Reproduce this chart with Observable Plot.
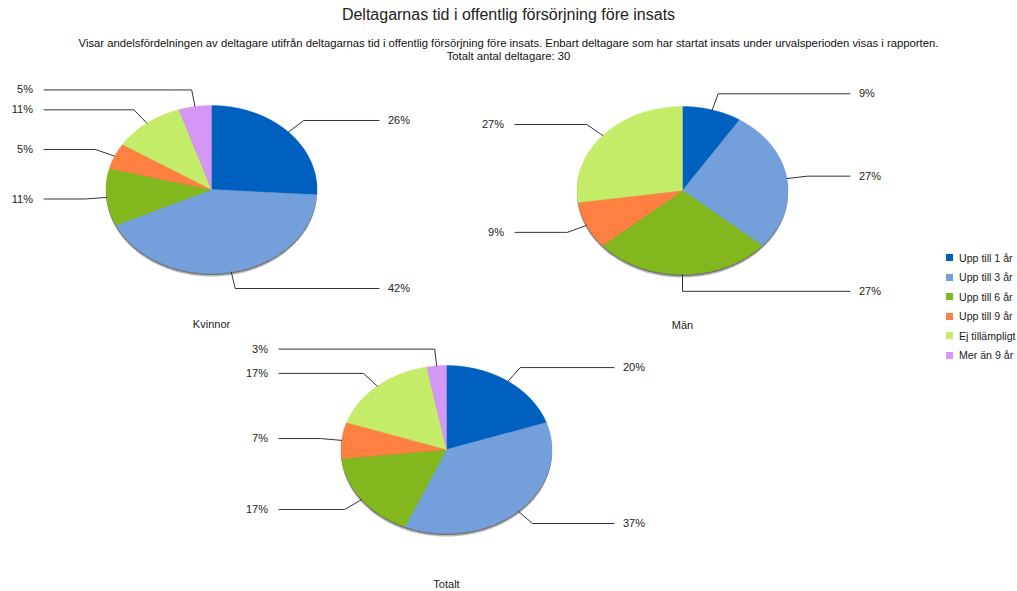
<!DOCTYPE html>
<html><head><meta charset="utf-8">
<script src="https://cdn.jsdelivr.net/npm/d3@7"></script>
<script src="https://cdn.jsdelivr.net/npm/@observablehq/plot@0.6"></script>
<style>
body{margin:0;background:#fff;}
#wrap{position:relative;width:1017px;height:591px;font-family:"Liberation Sans",Arial,sans-serif;color:#222;overflow:hidden;background:#fff}
.title{position:absolute;left:0;width:1017px;top:6px;text-align:center;font-size:16px}
.sub{position:absolute;left:0;width:1017px;top:37px;text-align:center;font-size:11.3px;line-height:13px;color:#111}
.pie{position:absolute}
.legend{position:absolute;left:946px;top:248px;font-size:10.6px}
.legend div{height:19.5px;display:flex;align-items:center;white-space:nowrap}
.legend span.sw{width:7px;height:7px;margin-right:6px;display:inline-block}
</style></head><body><div id="wrap">
<div class="title" id="title"></div>
<div class="sub" id="sub"></div>
<div class="legend" id="legend"></div>
</div>
<script>
const titleText = "Deltagarnas tid i offentlig försörjning före insats";
const subLines = ["Visar andelsfördelningen av deltagare utifrån deltagarnas tid i offentlig försörjning före insats. Enbart deltagare som har startat insats under urvalsperioden visas i rapporten.", "Totalt antal deltagare: 30"];
const categories = ["Upp till 1 år", "Upp till 3 år", "Upp till 6 år", "Upp till 9 år", "Ej tillämpligt", "Mer än 9 år"];
const colors = ["#0060bf", "#739fdb", "#82b81e", "#ff8040", "#c5ec69", "#d597f6"];
const kvinnor = [26, 42, 11, 5, 11, 5];
const man = [9, 27, 27, 9, 27, 0];
const totalt = [20, 37, 17, 7, 17, 3];
const pieNames = ["Kvinnor", "Män", "Totalt"];

const RX = 105.5, RY = 84;
const W = 420, H = 255, CXP = 200, CYP = 110;

document.getElementById("title").textContent = titleText;
document.getElementById("sub").innerHTML = subLines.map(s => `<div>${s}</div>`).join("");
const leg = document.getElementById("legend");
categories.forEach((c, i) => {
  const d = document.createElement("div");
  d.innerHTML = `<span class="sw" style="background:${colors[i]}"></span>${c}`;
  leg.appendChild(d);
});

function makePie(name, values, cx, cy) {
  const total = d3.sum(values);
  const poly = [], leaders = [], labels = [];
  let cum = 0;
  values.forEach((v, i) => {
    const a0 = 2 * Math.PI * cum / total;
    cum += v;
    const a1 = 2 * Math.PI * cum / total;
    if (v <= 0) return;
    const cat = categories[i];
    poly.push({cat, x: 0, y: 0});
    const n = Math.max(2, Math.ceil((a1 - a0) / 0.01));
    for (let k = 0; k <= n; k++) {
      const a = a0 + (a1 - a0) * k / n;
      poly.push({cat, x: Math.sin(a), y: Math.cos(a)});
    }
    poly.push({cat, x: 0, y: 0});
    const m = (a0 + a1) / 2;
    const side = Math.sin(m) >= -1e-9 ? 1 : -1;
    const by = 1.2 * Math.cos(m);
    leaders.push({cat, x: Math.sin(m), y: Math.cos(m)});
    leaders.push({cat, x: 1.2 * Math.sin(m), y: by});
    leaders.push({cat, x: side * 167.5 / RX, y: by});
    labels.push({x: side * 167.5 / RX, y: by, text: v + "%", side});
  });
  const ring = d3.range(0, 361, 1).map(d => ({x: Math.sin(d * Math.PI / 180), y: Math.cos(d * Math.PI / 180)}));
  const svg = Plot.plot({
    width: W, height: H, margin: 0,
    style: {fontFamily: '"Liberation Sans", Arial, sans-serif', fontSize: "11px", background: "transparent", overflow: "visible"},
    x: {domain: [-CXP / RX, (W - CXP) / RX], axis: null},
    y: {domain: [-(H - CYP) / RY, CYP / RY], axis: null},
    color: {domain: categories, range: colors},
    marks: [
      Plot.line(ring, {x: "x", y: "y", fill: "#3a3a3a", fillOpacity: 0.35, stroke: "none", dy: 3}),
      Plot.line(ring, {x: "x", y: "y", fill: "#2a2a2a", fillOpacity: 0.5, stroke: "none", dy: 1.5}),
      Plot.line(poly, {x: "x", y: "y", z: "cat", fill: "cat", stroke: "cat", strokeWidth: 0.4, curve: "linear"}),
      Plot.line(leaders, {x: "x", y: "y", z: "cat", stroke: "#333", strokeWidth: 1}),
      Plot.text(labels.filter(d => d.side > 0), {x: "x", y: "y", text: "text", textAnchor: "start", dx: 9, fill: "#222"}),
      Plot.text(labels.filter(d => d.side < 0), {x: "x", y: "y", text: "text", textAnchor: "end", dx: -11, fill: "#222"}),
      Plot.text([name], {x: () => 0, y: () => -135 / RY, text: d => d, fill: "#222"})
    ]
  });
  svg.classList.add("pie");
  svg.style.left = (cx - CXP) + "px";
  svg.style.top = (cy - CYP) + "px";
  svg.style.position = "absolute";
  document.getElementById("wrap").appendChild(svg);
}

makePie(pieNames[0], kvinnor, 210.5, 189);
makePie(pieNames[1], man, 682, 190);
makePie(pieNames[2], totalt, 446, 449);
</script>
</body></html>
